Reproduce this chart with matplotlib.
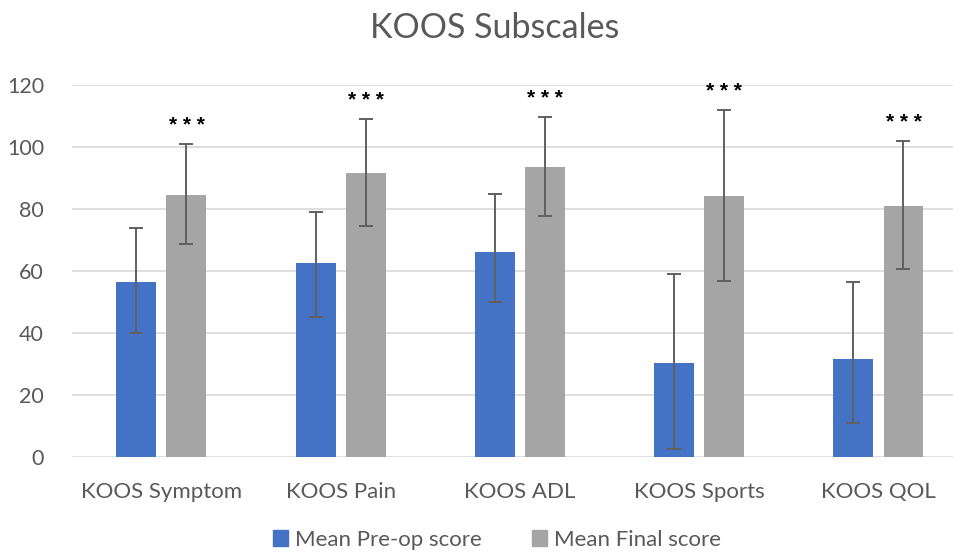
import numpy as np
import matplotlib.pyplot as plt
from matplotlib.patches import Patch

# KOOS subscale means, pre-op vs final follow-up
categories = ['KOOS Symptom', 'KOOS Pain', 'KOOS ADL', 'KOOS Sports', 'KOOS QOL']
preop_mean = [56.3, 62.4, 66.1, 30.2, 31.4]
final_mean = [84.6, 91.5, 93.4, 84.3, 81.0]
# error bar ends (low, high)
preop_low = [40.0, 45.2, 50.0, 2.6, 10.8]
preop_high = [73.9, 78.9, 84.7, 59.1, 56.5]
final_low = [68.8, 74.4, 77.7, 56.8, 60.5]
final_high = [100.9, 108.9, 109.7, 112.0, 102.0]
signif = ['* * *', '* * *', '* * *', '* * *', '* * *']

blue = '#4472C4'
grey = '#A5A5A5'
txt = '#595959'

plt.rcParams['font.family'] = ['Lato', 'DejaVu Sans']

fig = plt.figure(figsize=(9.54, 5.53), dpi=100)
ax = fig.add_axes([0.0752, 0.1742, 0.9395, 0.6721])

x = np.arange(len(categories))
w = 0.223
off = 0.14

pre = np.array(preop_mean)
fin = np.array(final_mean)
pre_err = [pre - np.array(preop_low), np.array(preop_high) - pre]
fin_err = [fin - np.array(final_low), np.array(final_high) - fin]

ekw = dict(ecolor='#606060', elinewidth=1.4, capsize=4.7, capthick=1.4)
ax.bar(x - off, pre, w, color=blue, yerr=pre_err, error_kw=ekw, zorder=2)
ax.bar(x + off, fin, w, color=grey, yerr=fin_err, error_kw=ekw, zorder=2)

# significance markers above the final-score error bars
for xi, hi, s in zip(x, final_high, signif):
    ax.text(xi + off, hi + 6.0, s, ha='center', va='center', fontsize=15,
            fontweight='bold', color='black', family='Liberation Sans')

ax.set_xlim(-0.5, len(categories) - 0.5)
ax.set_ylim(0, 120)
ax.set_yticks(range(0, 121, 20))
ax.yaxis.grid(True, color='#D9D9D9', linewidth=1.2)
ax.set_axisbelow(True)
for sp in ax.spines.values():
    sp.set_visible(False)
ax.tick_params(axis='both', length=0, colors=txt, labelsize=15.5)
ax.tick_params(axis='y', pad=20)
ax.tick_params(axis='x', labelsize=16, pad=18)
ax.set_xticks(x)
ax.set_xticklabels(categories)

fig.text(0.519, 0.949, 'KOOS Subscales', ha='center', va='center', fontsize=24.5, color=txt)

handles = [Patch(color=blue, label='Mean Pre-op score'),
           Patch(color=grey, label='Mean Final score')]
fig.legend(handles=handles, loc='center', bbox_to_anchor=(0.521, 0.024), ncol=2,
           frameon=False, fontsize=16, labelcolor=txt, handlelength=0.7,
           handleheight=0.7, handletextpad=0.3, columnspacing=2.25,
           borderpad=0.1)

fig.savefig('out.png', dpi=100)
